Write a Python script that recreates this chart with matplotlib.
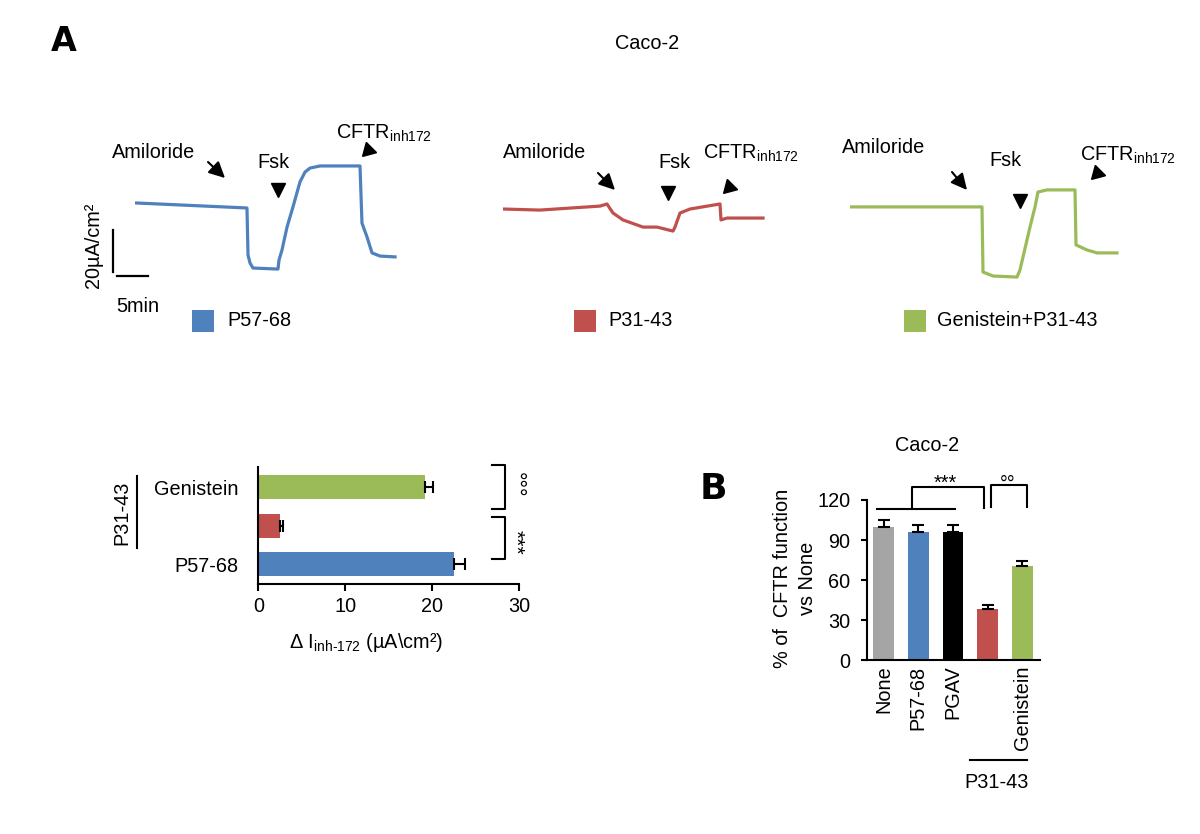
import matplotlib
matplotlib.use("Agg")
import matplotlib.pyplot as plt
from matplotlib.patches import Rectangle

plt.rcParams['font.family'] = ['Liberation Sans', 'DejaVu Sans']
plt.rcParams['mathtext.fontset'] = 'custom'
plt.rcParams['mathtext.rm'] = 'Liberation Sans'
plt.rcParams['mathtext.it'] = 'Liberation Sans:italic'
plt.rcParams['mathtext.bf'] = 'Liberation Sans:bold'

# ---------------- data ----------------
# Ussing chamber traces: time (min) vs short-circuit current (uA/cm2)
blue_t = [0, 18.06, 18.23, 18.55, 19.03, 23.06, 23.23, 23.71, 24.52, 25.48, 26.61, 27.42, 28.23, 29.84,
          36.29, 36.61, 37.42, 38.23, 39.52, 41.94]
blue_i = [36.7, 34.3, 11.9, 8.1, 5.7, 5.2, 9.5, 14.3, 25.2, 34.8, 46.7, 51.4, 53.3, 54.3,
          54.3, 27.1, 20.5, 12.9, 11.4, 11.0]
red_t = [0, 5.97, 15.65, 16.77, 17.74, 19.35, 22.58, 24.84, 27.42, 27.74, 28.55, 30.16, 35.0, 35.16, 36.13, 41.94]
red_i = [33.8, 33.3, 35.2, 36.2, 31.9, 28.6, 25.2, 25.2, 23.3, 25.2, 31.9, 33.8, 36.2, 28.6, 29.5, 29.5]
green_t = [0, 21.29, 21.45, 23.06, 26.94, 27.42, 29.03, 29.84, 30.32, 31.77, 36.29, 36.45, 38.23, 39.84, 43.06]
green_i = [34.8, 34.8, 3.8, 1.9, 1.4, 4.8, 25.2, 34.8, 41.9, 42.9, 42.9, 16.7, 14.3, 12.9, 12.9]
trace_names = ["P57-68", "P31-43", "Genistein+P31-43"]
scale_current = 20   # uA/cm2
scale_time = 5       # min

# Delta I inh-172 (horizontal bars)
hbar_labels = ["P57-68", "", "Genistein"]
hbar_vals = [22.5, 2.5, 19.2]
hbar_err = [1.3, 0.3, 0.9]
hbar_xticks = [0, 10, 20, 30]

# % of CFTR function vs None (vertical bars)
vbar_labels = ["None", "P57-68", "PGAV", "", "Genistein"]
vbar_vals = [100, 96, 96, 38.5, 70.5]
vbar_err = [5, 5, 5, 2.5, 4]
vbar_yticks = [0, 30, 60, 90, 120]

BLUE, RED, GREEN, GRAY, BLACK = '#4F81BD', '#C0504D', '#9BBB59', '#A5A5A5', '#000000'
trace_colors = [BLUE, RED, GREEN]
hbar_colors = [BLUE, RED, GREEN]
vbar_colors = [GRAY, BLUE, BLACK, RED, GREEN]

W, H = 1200, 834
FS = 14.3
fig = plt.figure(figsize=(W / 100, H / 100), dpi=100)

def rect(x0, y0, x1, y1):
    return [x0 / W, 1 - y1 / H, (x1 - x0) / W, (y1 - y0) / H]

# ---------------- traces ----------------
PX_MIN, PX_I = 6.2, 2.1
trace_axes = []
for x0, t, i, c in zip([135, 503, 850], [blue_t, red_t, green_t], [blue_i, red_i, green_i], trace_colors):
    ax = fig.add_axes(rect(x0, 140, x0 + 300, 300))
    ax.plot(t, i, color=c, lw=2.3, solid_joinstyle='round')
    ax.set_xlim(0, 300 / PX_MIN)
    ax.set_ylim((280 - 300) / PX_I, (280 - 140) / PX_I)
    ax.axis('off')
    trace_axes.append(ax)

# scale bar on first trace axes
axb = trace_axes[0]
sx = (113 - 135) / PX_MIN
sy = (280 - 272) / PX_I
axb.plot([sx, sx], [sy, sy + scale_current], color='k', lw=1.6, clip_on=False)
hx = (117 - 135) / PX_MIN
hy = (280 - 276) / PX_I
axb.plot([hx, hx + scale_time], [hy, hy], color='k', lw=1.6, clip_on=False)

# ---------------- horizontal bar chart ----------------
ax1 = fig.add_axes(rect(258.3, 467, 519, 584))
ypos = list(range(len(hbar_vals)))
ax1.barh(ypos, hbar_vals, height=0.62, color=hbar_colors,
         xerr=[[0] * len(hbar_err), hbar_err], capsize=4,
         error_kw=dict(elinewidth=1.5, capthick=1.5, ecolor='k'))
ax1.set_xlim(0, 30)
ax1.set_ylim(-0.504, 2.517)
ax1.set_yticks(ypos)
ax1.set_yticklabels(hbar_labels, fontsize=FS)
ax1.tick_params(axis='y', length=0, pad=14)
ax1.set_xticks(hbar_xticks)
ax1.set_xticklabels([str(v) for v in hbar_xticks], fontsize=FS)
ax1.tick_params(axis='x', length=5, width=1.5, pad=4, direction='out')
for s in ['top', 'right']:
    ax1.spines[s].set_visible(False)
for s in ['left', 'bottom']:
    ax1.spines[s].set_linewidth(1.5)

# ---------------- vertical bar chart ----------------
ax2 = fig.add_axes(rect(867, 500, 1040, 660))
xpos = list(range(len(vbar_vals)))
ax2.bar(xpos, vbar_vals, width=0.6, color=vbar_colors,
        yerr=[[0] * len(vbar_err), vbar_err], capsize=4,
        error_kw=dict(elinewidth=1.5, capthick=1.5, ecolor='k'))
ax2.set_ylim(0, 120)
ax2.set_xlim(-0.475, 4.504)
ax2.set_yticks(vbar_yticks)
ax2.set_yticklabels([str(v) for v in vbar_yticks], fontsize=FS)
ax2.tick_params(axis='y', length=4, width=1.5, pad=8, direction='out')
ax2.set_xticks(xpos)
ax2.set_xticklabels(vbar_labels, rotation=90, fontsize=FS, va='top', ha='center')
ax2.tick_params(axis='x', length=0, pad=4)
for s in ['top', 'right']:
    ax2.spines[s].set_visible(False)
for s in ['left', 'bottom']:
    ax2.spines[s].set_linewidth(1.5)

# ---------------- overlay annotations (pixel coords) ----------------
ov = fig.add_axes([0, 0, 1, 1])
ov.set_xlim(0, W)
ov.set_ylim(H, 0)
ov.axis('off')
ov.patch.set_alpha(0)

ov.text(64, 41, "A", fontsize=24, fontweight='bold', family='DejaVu Sans', ha='center', va='center')
ov.text(713, 489, "B", fontsize=26, fontweight='bold', family='DejaVu Sans', ha='center', va='center')
ov.text(647, 43, "Caco-2", fontsize=FS, ha='center', va='center')

cftr = r"CFTR$_{\mathrm{inh172}}$"
annos = [
    # amiloride text xy, arrow tail, arrow tip, fsk xy, fsk tri, cftr xy, cftr tri
    ((112, 152), (208, 162), (225, 178), (273, 162), (278, 190), (336, 133), (368, 150)),
    ((503, 152), (598, 173), (615, 190), (674, 162), (668, 193), (703, 153), (729, 187)),
    ((842, 147), (952, 172), (967, 190), (1005, 160), (1020, 201), (1080, 155), (1097, 173)),
]
for am, tail, tip, fsk, ftri, cf, ctri in annos:
    ov.text(am[0], am[1], "Amiloride", fontsize=FS, ha='left', va='center')
    ov.annotate('', xy=tip, xytext=tail,
                arrowprops=dict(arrowstyle='-|>,head_length=0.8,head_width=0.4', color='k',
                                lw=1.5, shrinkA=0, shrinkB=0, mutation_scale=12))
    ov.text(fsk[0], fsk[1], "Fsk", fontsize=FS, ha='center', va='center')
    ov.plot([ftri[0]], [ftri[1]], marker='v', ms=10, color='k', mec='k')
    ov.text(cf[0], cf[1], cftr, fontsize=FS, ha='left', va='center')
    ov.plot([ctri[0]], [ctri[1]], marker=(3, 0, 135), ms=12, color='k', mec='k')

# legend swatches
for (bx, tx), c, name in zip([(192, 227), (574, 608), (904, 937)], trace_colors, trace_names):
    ov.add_patch(Rectangle((bx, 310), 22, 22, color=c, lw=0))
    ov.text(tx, 321, name, fontsize=FS, ha='left', va='center')

# scale bar labels
ov.text(93, 245, "20µA/cm²", fontsize=FS, rotation=90, ha='center', va='center')
ov.text(138, 307, "5min", fontsize=FS, ha='center', va='center')

# horizontal bar chart extras
ov.text(122, 513, "P31-43", fontsize=FS, rotation=90, ha='center', va='center')
ov.plot([137, 137], [476, 548], color='k', lw=1.5)
ov.text(366, 642, r"Δ I$_{\mathrm{inh}\text{-}\mathrm{172}}$ (µA\cm²)", fontsize=FS, ha='center', va='center')
ov.plot([492, 505, 505, 492], [465, 465, 509, 509], color='k', lw=1.5)
ov.plot([492, 505, 505, 492], [517, 517, 559, 559], color='k', lw=1.5)
ov.text(515, 485, "°°°", fontsize=FS + 1, rotation=270, ha='center', va='center')
ov.text(515, 542, "***", fontsize=FS + 1, rotation=270, ha='center', va='center')

# vertical bar chart extras
ov.text(927, 445, "Caco-2", fontsize=FS, ha='center', va='center')
ov.text(795, 578, "% of  CFTR function\nvs None", fontsize=FS, rotation=90,
        ha='center', va='center', multialignment='center', linespacing=1.35)
ov.plot([877, 955], [509, 509], color='k', lw=1.5)
ov.plot([912, 912, 984, 984], [509, 487, 487, 508], color='k', lw=1.5)
ov.plot([991, 991, 1027, 1027], [507, 485, 485, 507], color='k', lw=1.5)
ov.text(945, 489, "***", fontsize=FS, ha='center', va='baseline')
ov.text(1008, 490, "°°", fontsize=FS, ha='center', va='baseline')
ov.plot([970, 1027], [760, 760], color='k', lw=1.5)
ov.text(997, 782, "P31-43", fontsize=FS, ha='center', va='center')

fig.savefig("out.png", dpi=100)
